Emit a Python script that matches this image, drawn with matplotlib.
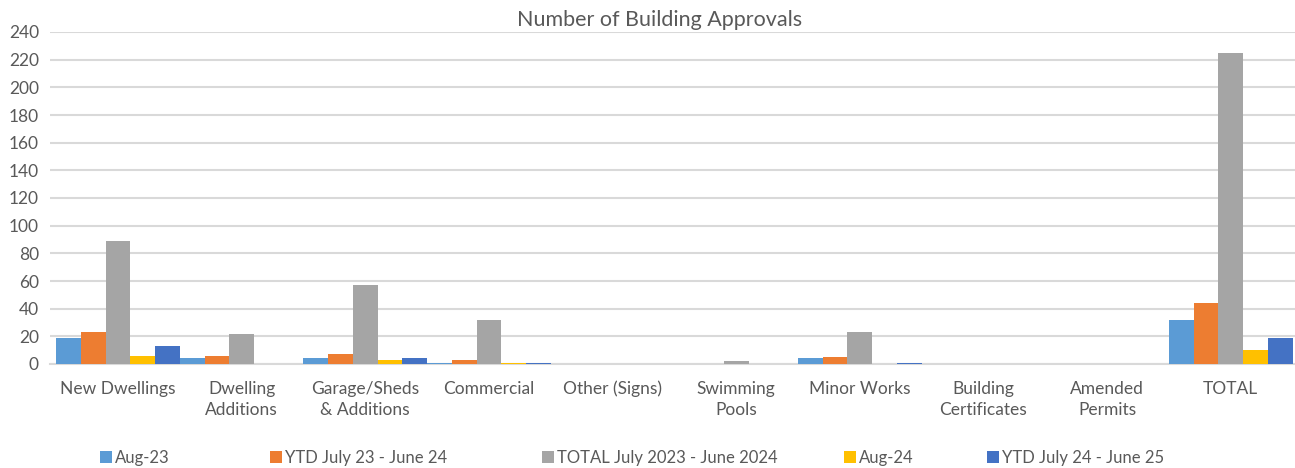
import matplotlib
matplotlib.use("Agg")
import matplotlib.pyplot as plt
import numpy as np

categories = ["New Dwellings", "Dwelling\nAdditions", "Garage/Sheds\n& Additions", "Commercial",
              "Other (Signs)", "Swimming\nPools", "Minor Works", "Building\nCertificates",
              "Amended\nPermits", "TOTAL"]
series_names = ["Aug-23", "YTD July 23 - June 24", "TOTAL July 2023 - June 2024", "Aug-24", "YTD July 24 - June 25"]
aug23 = [19, 4, 4, 1, 0, 0, 4, 0, 0, 32]
ytd_23_24 = [23, 6, 7, 3, 0, 0, 5, 0, 0, 44]
total_23_24 = [89, 22, 57, 32, 0, 2, 23, 0, 0, 225]
aug24 = [6, 0, 3, 1, 0, 0, 0, 0, 0, 10]
ytd_24_25 = [13, 0, 4, 1, 0, 0, 1, 0, 0, 19]
yticks = list(range(0, 241, 20))

series = [aug23, ytd_23_24, total_23_24, aug24, ytd_24_25]
colors = ["#5B9BD5", "#ED7D31", "#A5A5A5", "#FFC000", "#4472C4"]

plt.rcParams['font.family'] = ['Lato', 'DejaVu Sans']
fig = plt.figure(figsize=(12.95, 4.68), dpi=100)
ax = fig.add_axes([50/1295, 1-364/468, 1245/1295, (364-32)/468])

x = np.arange(len(categories))
w = 0.2
handles = []
for i, (vals, c) in enumerate(zip(series, colors)):
    b = ax.bar(x + (i - 2) * w, vals, width=w, color=c, zorder=3, linewidth=0)
    handles.append(b)

ax.set_xlim(-0.55, 9.52)
ax.set_ylim(0, 240)
ax.set_yticks(yticks)
ax.set_yticklabels([str(t) for t in yticks], fontsize=12.5, color="#595959")
ax.set_xticks(x)
ax.set_xticklabels(categories, fontsize=12.5, color="#595959", linespacing=1.4, va="top")
ax.tick_params(axis="both", length=0)
ax.tick_params(axis="x", pad=12)
ax.tick_params(axis="y", pad=8)
ax.grid(axis="y", color="#D9D9D9", linewidth=1.5, zorder=0)
for s in ["top", "right", "left"]:
    ax.spines[s].set_visible(False)
ax.spines["bottom"].set_color("#D9D9D9")
ax.spines["bottom"].set_linewidth(1.5)

fig.text(660/1295, 1-20/468, "Number of Building Approvals", ha="center", va="center",
         fontsize=15.5, color="#595959")

leg_x = [100, 270, 542, 844, 987]
for h, name, lx in zip(handles, series_names, leg_x):
    fig.legend([h], [name], loc="center left", bbox_to_anchor=(lx/1295, 1-458/468),
               frameon=False, fontsize=12, handlelength=0.7, handleheight=0.7,
               handletextpad=0.2, borderaxespad=0, borderpad=0, labelcolor="#595959")

fig.savefig("out.png", dpi=100)
